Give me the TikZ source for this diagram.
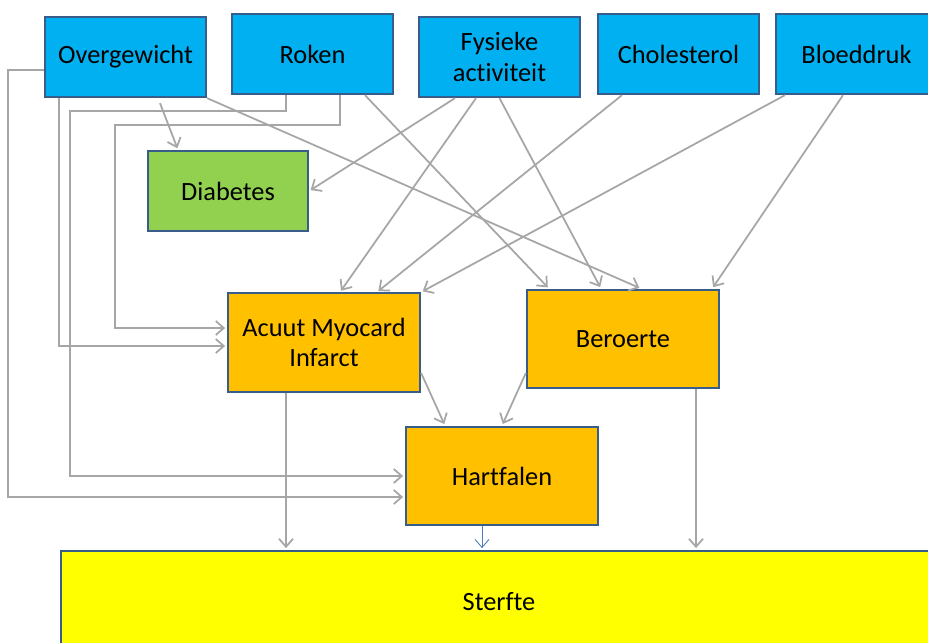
\documentclass[tikz,border=0pt]{standalone}
\usepackage{fontspec}
\setmainfont[Ligatures=NoCommon]{Carlito}
\usetikzlibrary{arrows.meta}
\definecolor{rand}{RGB}{56,93,138}
\definecolor{risico}{RGB}{0,176,240}
\definecolor{diab}{RGB}{146,208,80}
\definecolor{ziekte}{RGB}{255,192,0}
\definecolor{dood}{RGB}{255,255,0}
\definecolor{lijn}{RGB}{166,166,166}
\definecolor{lijnblauw}{RGB}{74,126,187}
\begin{document}
\begin{tikzpicture}[
  box/.style={draw=rand, line width=1.3pt, align=center, inner sep=0pt,
    font=\fontsize{15}{17.5}\selectfont},
  factor/.style={box, fill=risico, minimum width=3.22cm, minimum height=1.6cm},
  ziek/.style={box, fill=ziekte, minimum width=3.84cm, minimum height=1.97cm},
  link/.style={draw=lijn, line width=1pt, -{Straight Barb[length=1.6mm,width=2.8mm]}, shorten >=1pt}
]
  \useasboundingbox (0,0) rectangle (18.56,-12.84);

  \node[factor] (over) at (2.51,-1.14) {Overgewicht};
  \node[factor] (roken) at (6.25,-1.08) {Roken};
  \node[factor] (fysiek) at (9.99,-1.14) {Fysieke\\activiteit};
  \node[factor] (chol) at (13.57,-1.08) {Cholesterol};
  \node[factor] (bloed) at (17.13,-1.08) {Bloeddruk};

  \node[box, fill=diab, minimum width=3.2cm, minimum height=1.6cm] (diab) at (4.56,-3.82) {Diabetes};
  \node[ziek] (ami) at (6.48,-6.85) {Acuut Myocard\\Infarct};
  \node[ziek] (ber) at (12.46,-6.78) {Beroerte};
  \node[ziek] (hart) at (10.04,-9.52) {Hartfalen};
  \node[box, fill=dood, minimum width=17.52cm, minimum height=2.04cm] (sterfte) at (9.98,-12.04) {Sterfte};

  % overgewicht
  \draw[link] ([yshift=-0.26cm]over.west) -- ++(-0.72,0) |- ([yshift=-0.42cm]hart.west);
  \draw[link] ([xshift=0.3cm]over.south west) |- ([yshift=-0.07cm]ami.west);
  \draw[link] ([xshift=0.69cm,yshift=-0.1cm]over.south) -- ([xshift=-1cm]diab.north);
  \draw[link] (over.south east) -- ([xshift=0.36cm]ber.north);

  % roken
  \draw[link] ([xshift=-0.53cm]roken.south) -- ++(0,-0.32) -| ([xshift=-6.7cm]hart.west) -- (hart.west);
  \draw[link] ([xshift=0.55cm]roken.south) -- ++(0,-0.6) -| ([xshift=-2.24cm,yshift=0.29cm]ami.west)
    -- ([yshift=0.29cm]ami.west);
  \draw[link] ([xshift=1.05cm]roken.south) -- ([xshift=-1.48cm]ber.north);

  % fysieke activiteit
  \draw[link] ([xshift=-0.89cm]fysiek.south) -- (diab.east);
  \draw[link] ([xshift=-0.47cm]fysiek.south) -- ([xshift=0.32cm]ami.north);
  \draw[link] (fysiek.south) -- ([xshift=-0.44cm]ber.north);

  % cholesterol, bloeddruk
  \draw[link] ([xshift=-1.13cm]chol.south) -- ([xshift=1.06cm]ami.north);
  \draw[link] ([xshift=-1.43cm]bloed.south) -- (ami.north east);
  \draw[link] ([xshift=-0.27cm]bloed.south) -- ([xshift=-0.16cm]ber.north east);

  % ziektes
  \draw[link] ([yshift=-0.61cm]ami.east) -- ([xshift=-1.14cm]hart.north);
  \draw[link] ([yshift=-0.68cm]ber.west) -- (hart.north);
  \draw[link] ([xshift=-0.76cm]ami.south) -- ([xshift=-0.76cm]ami.south |- sterfte.north);
  \draw[link] ([xshift=1.46cm]ber.south) -- ([xshift=1.46cm]ber.south |- sterfte.north);
  \draw[link, draw=lijnblauw, line width=0.5pt] ([xshift=-0.4cm]hart.south) -- ([xshift=-0.4cm]hart.south |- sterfte.north);
\end{tikzpicture}
\end{document}
